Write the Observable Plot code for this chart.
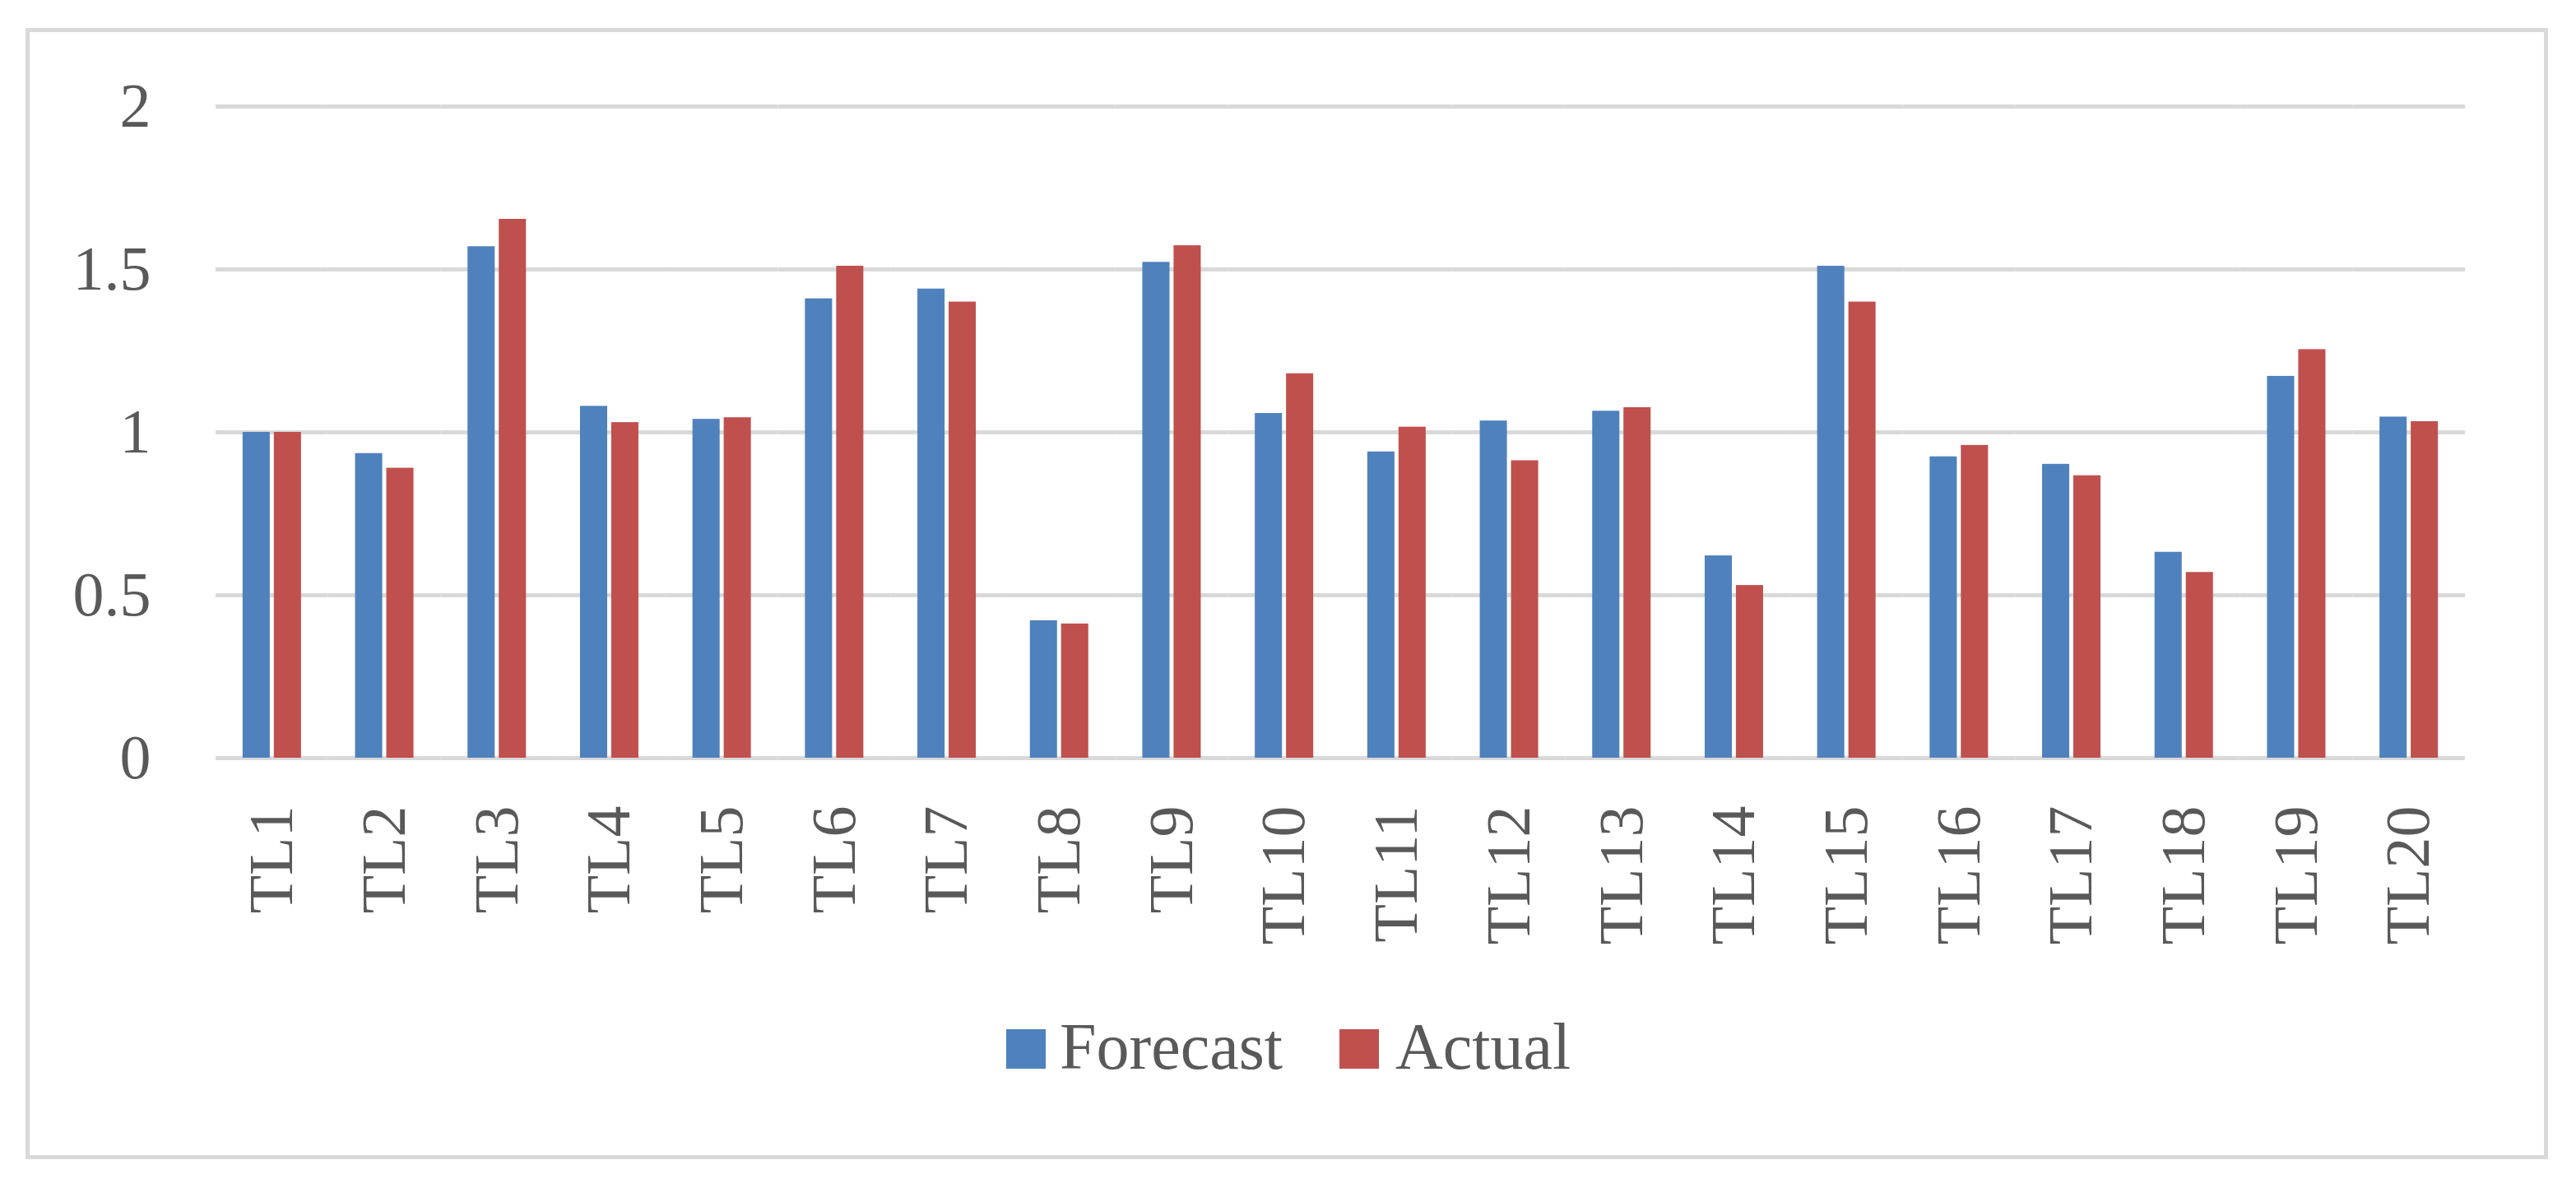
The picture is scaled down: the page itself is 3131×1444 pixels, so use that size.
<!DOCTYPE html>
<html>
<head>
<meta charset="utf-8">
<script src="https://cdn.jsdelivr.net/npm/d3@7"></script>
<script src="https://cdn.jsdelivr.net/npm/@observablehq/plot@0.6"></script>
<style>
  html, body { margin: 0; padding: 0; background: #ffffff; }
  #wrap { position: relative; width: 3131px; height: 1444px; overflow: hidden; }
  #chart { position: absolute; left: 0; top: 0; }
  #frame { position: absolute; left: 31px; top: 34px; width: 3056px; height: 1365px;
           border: 5px solid #d9d9d9; pointer-events: none; }
  #legend { position: absolute; left: 1223px; top: 1232px; white-space: nowrap;
            font-family: "Liberation Serif", "Times New Roman", serif; font-size: 80px; line-height: 80px;
            color: #595959; }
  .sw { display: inline-block; width: 48px; height: 48px; vertical-align: baseline; }
</style>
</head>
<body>
<div id="wrap">
  <div id="chart"></div>
  <div id="frame"></div>
  <div id="legend"></div>
</div>
<script>
const categories = ["TL1","TL2","TL3","TL4","TL5","TL6","TL7","TL8","TL9","TL10",
                    "TL11","TL12","TL13","TL14","TL15","TL16","TL17","TL18","TL19","TL20"];
const forecast = [1.00, 0.935, 1.57, 1.08, 1.04, 1.41, 1.44, 0.422, 1.522, 1.058,
                  0.94, 1.035, 1.065, 0.621, 1.51, 0.925, 0.902, 0.632, 1.172, 1.047];
const actual   = [1.00, 0.89, 1.654, 1.03, 1.045, 1.51, 1.40, 0.412, 1.573, 1.18,
                  1.016, 0.913, 1.076, 0.53, 1.40, 0.96, 0.867, 0.57, 1.254, 1.033];
const seriesNames = ["Forecast", "Actual"];
const seriesColors = ["#4f81bd", "#c0504d"];
const yTicks = [0, 0.5, 1, 1.5, 2];

const data = [];
categories.forEach((c, i) => {
  data.push({tl: c, series: seriesNames[0], value: forecast[i]});
  data.push({tl: c, series: seriesNames[1], value: actual[i]});
});

const W = 3131, H = 1180;
const chart = Plot.plot({
  width: W,
  height: H,
  marginLeft: 262,
  marginRight: 135,
  marginTop: 129,
  marginBottom: H - 921,
  style: {fontFamily: "'Liberation Serif', 'Times New Roman', serif", color: "#595959", background: "transparent"},
  fx: {domain: categories, padding: 0, round: false, label: null},
  x: {domain: seriesNames, paddingInner: 0.13, paddingOuter: 0.865, round: false, axis: null},
  y: {domain: [0, 2], ticks: yTicks, label: null},
  color: {domain: seriesNames, range: seriesColors},
  marks: [
    Plot.ruleY(yTicks, {stroke: "#d9d9d9", strokeWidth: 5}),
    Plot.barY(data, {fx: "tl", x: "series", y: "value", fill: "series"}),
    Plot.axisY({ticks: yTicks, tickSize: 0, tickPadding: 79, fontSize: 76, tickFormat: d => String(d), fill: "#595959"}),
    Plot.axisFx({anchor: "bottom", tickSize: 0, tickPadding: 58, tickRotate: -90, fontSize: 76, fill: "#595959", label: null})
  ]
});
document.getElementById("chart").appendChild(chart);

const legend = document.getElementById("legend");
seriesNames.forEach((name, i) => {
  const sw = document.createElement("span");
  sw.className = "sw";
  sw.style.background = seriesColors[i];
  sw.style.marginRight = i === 0 ? "17px" : "20px";
  if (i > 0) sw.style.marginLeft = "69px";
  legend.appendChild(sw);
  legend.appendChild(document.createTextNode(name));
});
</script>
</body>
</html>
